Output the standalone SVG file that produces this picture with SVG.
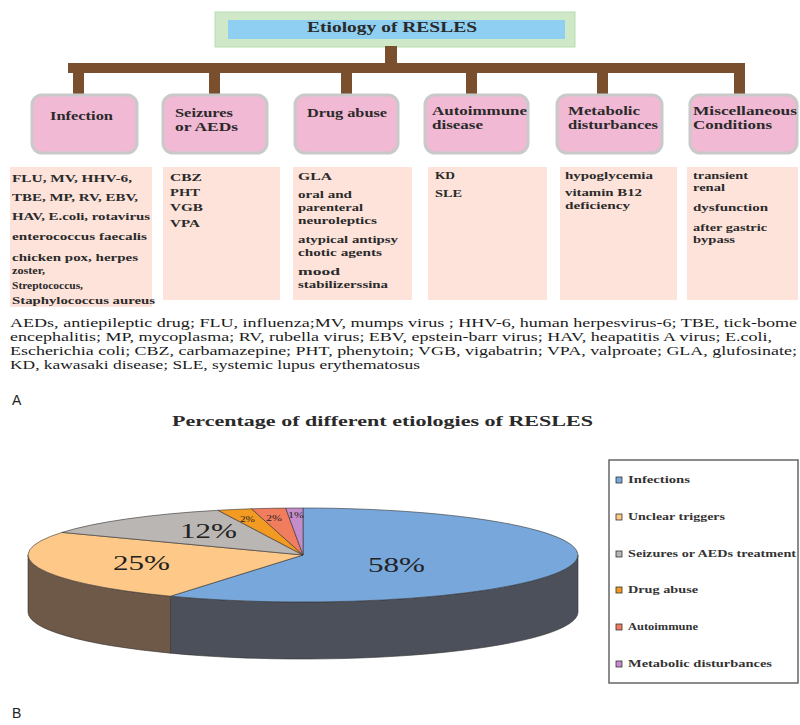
<svg xmlns="http://www.w3.org/2000/svg" width="800" height="725" viewBox="0 0 800 725">
<style>
.cat{fill:#f2b9d5;stroke:#c9c9c9;stroke-width:3}
.cnt{fill:#fde3da}
.lbl{font-family:'Liberation Serif','Times New Roman',serif;font-weight:bold;font-size:12.5px;fill:#2a2a2a}
.txt{font-family:'Liberation Serif','Times New Roman',serif;font-weight:bold;font-size:11px;fill:#2a2a2a}
.foot{font-family:'Liberation Serif','Times New Roman',serif;font-size:12.5px;fill:#1a1a1a}
.pct{font-family:'Liberation Serif','Times New Roman',serif;font-size:20px;fill:#222}
.sm{font-family:'Liberation Serif','Times New Roman',serif;font-size:8px;fill:#222}
.leg{font-family:'Liberation Serif','Times New Roman',serif;font-weight:bold;font-size:11px;fill:#333}
.sq{stroke:#333;stroke-width:0.8}
.sl{stroke:#333;stroke-width:0.6}
.conn{fill:#7a4f2d}
.panel{font-family:'Liberation Sans',Arial,sans-serif;font-size:14px;fill:#222}
</style>

<g id="title">
<rect x="215" y="12" width="360" height="35" fill="#cfe8c8" stroke="#b9dcb1" stroke-width="1"/>
<rect x="228" y="20" width="337" height="19" fill="#8fd0f2"/>
<text x="307" y="32" class="lbl" style="font-size:14px" textLength="170" lengthAdjust="spacingAndGlyphs">Etiology of RESLES</text>
</g>

<g id="connectors">
<rect class="conn" x="385" y="46" width="12" height="18"/>
<rect class="conn" x="68" y="63" width="677" height="10"/>
<rect class="conn" x="73" y="72" width="11" height="24"/>
<rect class="conn" x="209" y="72" width="11" height="24"/>
<rect class="conn" x="341" y="72" width="11" height="24"/>
<rect class="conn" x="466" y="72" width="11" height="24"/>
<rect class="conn" x="597" y="72" width="11" height="24"/>
<rect class="conn" x="734" y="72" width="11" height="24"/>
</g>

<g id="infection">
<rect class="cat" x="32" y="95" width="105" height="58" rx="10"/>
<text class="lbl" x="50" y="120" textLength="63" lengthAdjust="spacingAndGlyphs">Infection</text>
<rect class="cnt" x="10" y="167" width="142" height="140"/>
<text class="txt" x="12" y="182" textLength="120" lengthAdjust="spacingAndGlyphs">FLU, MV, HHV-6,</text>
<text class="txt" x="12" y="201" textLength="126" lengthAdjust="spacingAndGlyphs">TBE, MP, RV, EBV,</text>
<text class="txt" x="12" y="220" textLength="138" lengthAdjust="spacingAndGlyphs">HAV, E.coli, rotavirus</text>
<text class="txt" x="12" y="240" textLength="135" lengthAdjust="spacingAndGlyphs">enterococcus faecalis</text>
<text class="txt" x="12" y="261" textLength="126" lengthAdjust="spacingAndGlyphs">chicken pox, herpes</text>
<text class="txt" x="12" y="274" textLength="33" lengthAdjust="spacingAndGlyphs">zoster,</text>
<text class="txt" x="12" y="289" textLength="71" lengthAdjust="spacingAndGlyphs">Streptococcus,</text>
<text class="txt" x="12" y="304" textLength="143" lengthAdjust="spacingAndGlyphs">Staphylococcus aureus</text>
</g>

<g id="seizures">
<rect class="cat" x="163" y="95" width="104" height="58" rx="10"/>
<text class="lbl" x="175" y="117" textLength="58" lengthAdjust="spacingAndGlyphs">Seizures</text>
<text class="lbl" x="175" y="131" textLength="63" lengthAdjust="spacingAndGlyphs">or AEDs</text>
<rect class="cnt" x="163" y="167" width="117" height="133"/>
<text class="txt" x="170" y="181" textLength="32" lengthAdjust="spacingAndGlyphs">CBZ</text>
<text class="txt" x="170" y="196" textLength="30" lengthAdjust="spacingAndGlyphs">PHT</text>
<text class="txt" x="170" y="211" textLength="33" lengthAdjust="spacingAndGlyphs">VGB</text>
<text class="txt" x="170" y="227" textLength="30" lengthAdjust="spacingAndGlyphs">VPA</text>
</g>

<g id="drug-abuse">
<rect class="cat" x="295" y="95" width="103" height="58" rx="10"/>
<text class="lbl" x="307" y="117" textLength="80" lengthAdjust="spacingAndGlyphs">Drug abuse</text>
<rect class="cnt" x="293" y="167" width="119" height="133"/>
<text class="txt" x="298" y="180" textLength="34" lengthAdjust="spacingAndGlyphs">GLA</text>
<text class="txt" x="298" y="198" textLength="54" lengthAdjust="spacingAndGlyphs">oral and</text>
<text class="txt" x="298" y="211" textLength="65" lengthAdjust="spacingAndGlyphs">parenteral</text>
<text class="txt" x="298" y="224" textLength="79" lengthAdjust="spacingAndGlyphs">neuroleptics</text>
<text class="txt" x="298" y="243" textLength="100" lengthAdjust="spacingAndGlyphs">atypical antipsy</text>
<text class="txt" x="298" y="256" textLength="84" lengthAdjust="spacingAndGlyphs">chotic agents</text>
<text class="txt" x="298" y="275" textLength="42" lengthAdjust="spacingAndGlyphs">mood</text>
<text class="txt" x="298" y="288" textLength="90" lengthAdjust="spacingAndGlyphs">stabilizerssina</text>
</g>

<g id="autoimmune">
<rect class="cat" x="425" y="95" width="103" height="58" rx="10"/>
<text class="lbl" x="432" y="115" textLength="95" lengthAdjust="spacingAndGlyphs">Autoimmune</text>
<text class="lbl" x="432" y="129" textLength="51" lengthAdjust="spacingAndGlyphs">disease</text>
<rect class="cnt" x="428" y="167" width="119" height="133"/>
<text class="txt" x="435" y="179" textLength="20" lengthAdjust="spacingAndGlyphs">KD</text>
<text class="txt" x="435" y="197" textLength="27" lengthAdjust="spacingAndGlyphs">SLE</text>
</g>

<g id="metabolic">
<rect class="cat" x="557" y="95" width="105" height="58" rx="10"/>
<text class="lbl" x="568" y="115" textLength="72" lengthAdjust="spacingAndGlyphs">Metabolic</text>
<text class="lbl" x="568" y="129" textLength="90" lengthAdjust="spacingAndGlyphs">disturbances</text>
<rect class="cnt" x="560" y="167" width="117" height="133"/>
<text class="txt" x="565" y="179" textLength="88" lengthAdjust="spacingAndGlyphs">hypoglycemia</text>
<text class="txt" x="565" y="196" textLength="77" lengthAdjust="spacingAndGlyphs">vitamin B12</text>
<text class="txt" x="565" y="209" textLength="65" lengthAdjust="spacingAndGlyphs">deficiency</text>
</g>

<g id="miscellaneous">
<rect class="cat" x="690" y="95" width="107" height="58" rx="10"/>
<text class="lbl" x="693" y="115" textLength="104" lengthAdjust="spacingAndGlyphs">Miscellaneous</text>
<text class="lbl" x="693" y="129" textLength="79" lengthAdjust="spacingAndGlyphs">Conditions</text>
<rect class="cnt" x="687" y="167" width="111" height="133"/>
<text class="txt" x="693" y="179" textLength="55" lengthAdjust="spacingAndGlyphs">transient</text>
<text class="txt" x="693" y="191" textLength="32" lengthAdjust="spacingAndGlyphs">renal</text>
<text class="txt" x="693" y="211" textLength="75" lengthAdjust="spacingAndGlyphs">dysfunction</text>
<text class="txt" x="693" y="231" textLength="74" lengthAdjust="spacingAndGlyphs">after gastric</text>
<text class="txt" x="693" y="243" textLength="42" lengthAdjust="spacingAndGlyphs">bypass</text>
</g>

<g id="footnote">
<text class="foot" x="10" y="327" textLength="787" lengthAdjust="spacingAndGlyphs">AEDs, antiepileptic drug; FLU, influenza;MV, mumps virus ; HHV-6, human herpesvirus-6; TBE, tick-bome</text>
<text class="foot" x="10" y="341" textLength="762" lengthAdjust="spacingAndGlyphs">encephalitis; MP, mycoplasma; RV, rubella virus; EBV, epstein-barr virus; HAV, heapatitis A virus; E.coli,</text>
<text class="foot" x="10" y="355" textLength="787" lengthAdjust="spacingAndGlyphs">Escherichia coli; CBZ, carbamazepine; PHT, phenytoin; VGB, vigabatrin; VPA, valproate;  GLA, glufosinate;</text>
<text class="foot" x="10" y="369" textLength="410" lengthAdjust="spacingAndGlyphs">KD, kawasaki disease; SLE, systemic lupus erythematosus</text>
</g>

<text class="panel" x="12" y="405">A</text>

<g id="pie">
<text class="lbl" x="172" y="426" style="font-size:15px" textLength="421" lengthAdjust="spacingAndGlyphs">Percentage of different etiologies of RESLES</text>
<path class="sl" fill="#4b505a" d="M578,555 A275,47 0 0 1 170.5,596.2 L170.5,653.2 A275,47 0 0 0 578,612 Z"/>
<path class="sl" fill="#6e5847" d="M170.5,596.2 A275,47 0 0 1 28,555 L28,612 A275,47 0 0 0 170.5,653.2 Z"/>
<path class="sl" fill="#78a7dc" d="M303,555 L303,508 A275,47 0 1 1 170.5,596.2 Z"/>
<path class="sl" fill="#fdc888" d="M303,555 L170.5,596.2 A275,47 0 0 1 62,532.4 Z"/>
<path class="sl" fill="#bab6b3" d="M303,555 L62,532.4 A275,47 0 0 1 218,510.3 Z"/>
<path class="sl" fill="#f39a22" d="M303,555 L218,510.3 A275,47 0 0 1 251.5,508.8 Z"/>
<path class="sl" fill="#f27d5e" d="M303,555 L251.5,508.8 A275,47 0 0 1 285.7,508.1 Z"/>
<path class="sl" fill="#c48ccb" d="M303,555 L285.7,508.1 A275,47 0 0 1 303,508 Z"/>
<text class="pct" x="368" y="572" textLength="57" lengthAdjust="spacingAndGlyphs">58%</text>
<text class="pct" x="113" y="570" textLength="57" lengthAdjust="spacingAndGlyphs">25%</text>
<text class="pct" x="180" y="538" textLength="57" lengthAdjust="spacingAndGlyphs">12%</text>
<text class="sm" x="240" y="522" textLength="15" lengthAdjust="spacingAndGlyphs">2%</text>
<text class="sm" x="266" y="521" textLength="16" lengthAdjust="spacingAndGlyphs">2%</text>
<text class="sm" x="288" y="518" textLength="16" lengthAdjust="spacingAndGlyphs">1%</text>
</g>

<g id="legend">
<rect x="609" y="460" width="189" height="223" fill="#ffffff" stroke="#666" stroke-width="1.5"/>
<rect class="sq" x="616" y="477" width="6" height="6" fill="#78a7dc"/>
<text class="leg" x="628" y="483" textLength="62" lengthAdjust="spacingAndGlyphs">Infections</text>
<rect class="sq" x="616" y="514" width="6" height="6" fill="#fdc888"/>
<text class="leg" x="628" y="520" textLength="97" lengthAdjust="spacingAndGlyphs">Unclear triggers</text>
<rect class="sq" x="616" y="551" width="6" height="6" fill="#bab6b3"/>
<text class="leg" x="628" y="557" textLength="168" lengthAdjust="spacingAndGlyphs">Seizures or AEDs treatment</text>
<rect class="sq" x="616" y="587" width="6" height="6" fill="#f39a22"/>
<text class="leg" x="628" y="593" textLength="70" lengthAdjust="spacingAndGlyphs">Drug abuse</text>
<rect class="sq" x="616" y="624" width="6" height="6" fill="#f27d5e"/>
<text class="leg" x="628" y="630" textLength="70" lengthAdjust="spacingAndGlyphs">Autoimmune</text>
<rect class="sq" x="616" y="661" width="6" height="6" fill="#c48ccb"/>
<text class="leg" x="628" y="667" textLength="144" lengthAdjust="spacingAndGlyphs">Metabolic disturbances</text>
</g>

<text class="panel" x="12" y="718">B</text>
</svg>
